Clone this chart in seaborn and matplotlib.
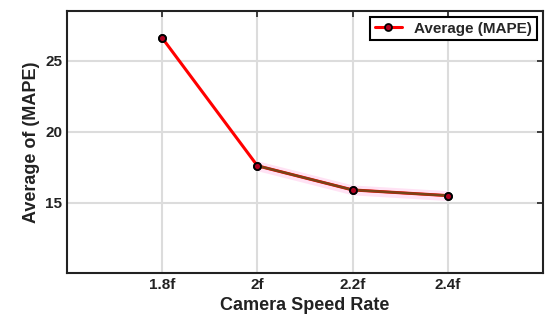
import numpy as np
import pandas as pd
import matplotlib
matplotlib.use('Agg')
import matplotlib.pyplot as plt
import seaborn as sns

# dados
rates = ['1.8f', '2f', '2.2f', '2.4f']
mape = [26.6, 17.6, 15.9, 15.5]

df = pd.DataFrame({'rate': rates, 'mape': mape})

sns.set_style('white')
plt.rcParams['font.family'] = ['Liberation Sans', 'DejaVu Sans']
plt.rcParams['font.weight'] = 'bold'

fig = plt.figure(figsize=(5.5, 3.32), dpi=100)
ax = fig.add_axes([0.1218, 0.1777, 0.8655, 0.7892])

# faixa rosa clara
xs = np.arange(len(rates))
ax.fill_between(xs[1:], df['mape'][1:] - 0.35, df['mape'][1:] + 0.35,
                color='#ffd6f0', alpha=0.7, linewidth=0, zorder=1)

sns.lineplot(data=df, x='rate', y='mape', sort=False, color='#ff0000',
             linewidth=2.2, marker='o', markersize=5, markerfacecolor='#b00020',
             markeredgecolor='black', markeredgewidth=1.3,
             label='Average (MAPE)', ax=ax, zorder=3)
sns.lineplot(data=df.iloc[1:], x='rate', y='mape', sort=False, color='#7a4416',
             linewidth=1.8, ax=ax, zorder=4, legend=False)
# redesenha os marcadores por cima
ax.plot(xs, mape, linestyle='none', marker='o', markersize=5,
        markerfacecolor='#b00020', markeredgecolor='black', markeredgewidth=1.3, zorder=5)

ax.set_xlim(-1, 4)
ax.set_ylim(10.05, 28.5)
ax.set_yticks([15, 20, 25])
ax.set_xticks(xs)
ax.set_xticklabels(rates)

ax.grid(True, color='#dcdcdc', linewidth=1.5)
ax.set_axisbelow(True)
for s in ax.spines.values():
    s.set_color('#222222')
    s.set_linewidth(1.5)
ax.tick_params(direction='in', length=4, width=1.2, colors='#222222',
               labelsize=11, top=True, right=True, labelcolor='#222222')
for lab in ax.get_xticklabels() + ax.get_yticklabels():
    lab.set_fontweight('bold')

ax.set_xlabel('Camera Speed Rate', fontsize=13, fontweight='bold', color='#222222')
ax.set_ylabel('Average of (MAPE)', fontsize=13, fontweight='bold', color='#222222')

leg = ax.legend(loc='upper right', fancybox=False, framealpha=1, edgecolor='black',
                prop={'weight': 'bold', 'size': 11}, borderpad=0.3,
                handlelength=1.8, borderaxespad=0.4)
leg.get_frame().set_linewidth(1.5)

plt.savefig('out.png', dpi=100)
